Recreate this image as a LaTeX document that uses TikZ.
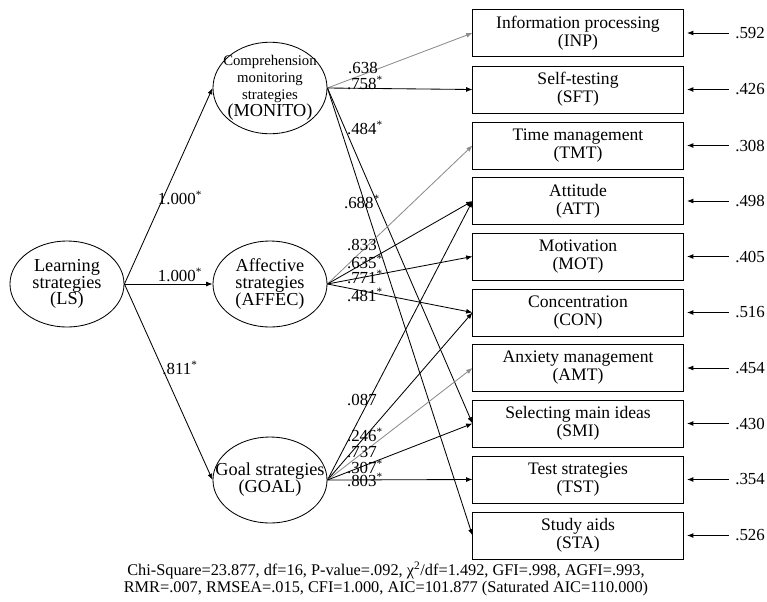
\documentclass[tikz,border=0pt]{standalone}
\usepackage{fontspec}
\setmainfont{Liberation Serif}
\usepackage{tikz}
\definecolor{white}{rgb}{1.0, 1.0, 1.0}
\definecolor{black}{rgb}{0.0, 0.0, 0.0}
\definecolor{lgray}{RGB}{140,140,140}
\usetikzlibrary{arrows.meta}
\usetikzlibrary{shapes.geometric}
\pgfdeclarelayer{edgelayer}
\pgfdeclarelayer{nodelayer}
\pgfsetlayers{edgelayer,nodelayer,main}
\tikzstyle{latent}=[ellipse,fill=white,draw=black,line width=0.6pt,minimum width=2.85cm,minimum height=2.15cm,inner xsep=-12pt,inner ysep=0pt,align=center,font=\fontsize{13}{12}\selectfont]
\tikzstyle{box}=[rectangle,fill=white,draw=black,line width=0.7pt,minimum width=5.25cm,minimum height=1.175cm,align=center,font=\fontsize{12.5}{12.8}\selectfont]
\tikzstyle{coef}=[inner sep=0pt,font=\fontsize{12}{12}\selectfont]
\tikzstyle{reg}=[-{Latex[length=4.5pt,width=3.5pt]},line width=0.6pt]
\tikzstyle{greg}=[reg,lgray]

\begin{document}
\begin{tikzpicture}[x=0.025cm,y=-0.025cm]
        \useasboundingbox (0,0) rectangle (767,601);
        \begin{pgfonlayer}{nodelayer}
            \node [style = latent] (ls) at (67, 284) {Learning\\strategies\\(LS)};
            \node [style = latent] (monito) at (270, 88) {{\fontsize{10.5}{10.5}\selectfont Comprehension}\\{\fontsize{10.5}{11}\selectfont monitoring}\\{\fontsize{10.5}{12}\selectfont strategies}\\(MONITO)};
            \node [style = latent] (affec) at (270, 284) {Affective\\strategies\\(AFFEC)};
            \node [style = latent] (goal) at (270, 480) {Goal strategies\\(GOAL)};

            \node [style = box] (inp) at (578, 33) {Information processing\\(INP)};
            \node [style = box] (sft) at (578, 89.5) {Self-testing\\(SFT)};
            \node [style = box] (tmt) at (578, 145.5) {Time management\\(TMT)};
            \node [style = box] (att) at (578, 201) {Attitude\\(ATT)};
            \node [style = box] (mot) at (578, 256.5) {Motivation\\(MOT)};
            \node [style = box] (con) at (578, 312.5) {Concentration\\(CON)};
            \node [style = box] (amt) at (578, 368) {Anxiety management\\(AMT)};
            \node [style = box] (smi) at (578, 423.5) {Selecting main ideas\\(SMI)};
            \node [style = box] (tst) at (578, 479.5) {Test strategies\\(TST)};
            \node [style = box] (sta) at (578, 535.5) {Study aids\\(STA)};

            \node [style = coef] (c1) at (180, 198) {1.000\textsuperscript{*}};
            \node [style = coef] (c2) at (180, 275) {1.000\textsuperscript{*}};
            \node [style = coef] (c3) at (180, 368) {.811\textsuperscript{*}};

            \node [style = coef] (c4) at (363, 68) {.638};
            \node [style = coef] (c5) at (365, 83) {.758\textsuperscript{*}};
            \node [style = coef] (c6) at (365, 128) {.484\textsuperscript{*}};
            \node [style = coef] (c7) at (362, 202) {.688\textsuperscript{*}};

            \node [style = coef] (c8) at (362, 245) {.833};
            \node [style = coef] (c9) at (365, 262) {.635\textsuperscript{*}};
            \node [style = coef] (c10) at (365, 277) {.771\textsuperscript{*}};
            \node [style = coef] (c11) at (365, 295) {.481\textsuperscript{*}};

            \node [style = coef] (c12) at (362, 400) {.087};
            \node [style = coef] (c13) at (365, 435) {.246\textsuperscript{*}};
            \node [style = coef] (c14) at (362, 452) {.737};
            \node [style = coef] (c15) at (365, 467) {.307\textsuperscript{*}};
            \node [style = coef] (c16) at (365, 480) {.803\textsuperscript{*}};

            \node [style = coef, anchor = west] (rinp) at (735, 33) {.592};
            \node [style = coef, anchor = west] (rsft) at (735, 89.5) {.426};
            \node [style = coef, anchor = west] (rtmt) at (735, 145.5) {.308};
            \node [style = coef, anchor = west] (ratt) at (735, 201) {.498};
            \node [style = coef, anchor = west] (rmot) at (735, 256.5) {.405};
            \node [style = coef, anchor = west] (rcon) at (735, 312.5) {.516};
            \node [style = coef, anchor = west] (ramt) at (735, 368) {.454};
            \node [style = coef, anchor = west] (rsmi) at (735, 423.5) {.430};
            \node [style = coef, anchor = west] (rtst) at (735, 479.5) {.354};
            \node [style = coef, anchor = west] (rsta) at (735, 535.5) {.526};

            \node [align = center, font = \fontsize{11.6}{12.5}\selectfont] (fit) at (386, 579) {Chi-Square=23.877, df=16, P-value=.092, χ\textsuperscript{2}/df=1.492, GFI=.998, AGFI=.993,\\RMR=.007, RMSEA=.015, CFI=1.000, AIC=101.877 (Saturated AIC=110.000)};
        \end{pgfonlayer}

        \begin{pgfonlayer}{edgelayer}
            \draw [reg] (ls.east) to (monito.west);
            \draw [reg] (ls.east) to (affec.west);
            \draw [reg] (ls.east) to (goal.west);

            \draw [greg] (monito.east) to (inp.west);
            \draw [reg] (monito.east) to (sft.west);
            \draw [reg] (monito.east) to (smi.west);
            \draw [reg] (monito.east) to (sta.west);

            \draw [greg] (affec.east) to (tmt.west);
            \draw [reg] (affec.east) to (att.west);
            \draw [reg] (affec.east) to (mot.west);
            \draw [reg] (affec.east) to (con.west);

            \draw [reg] (goal.east) to (att.west);
            \draw [reg] (goal.east) to (con.west);
            \draw [greg] (goal.east) to (amt.west);
            \draw [reg] (goal.east) to (smi.west);
            \draw [reg] (goal.east) to (tst.west);

            \draw [reg, shorten >=2.5pt] (rinp.west) ++(-6, 0) to (inp.east);
            \draw [reg, shorten >=2.5pt] (rsft.west) ++(-6, 0) to (sft.east);
            \draw [reg, shorten >=2.5pt] (rtmt.west) ++(-6, 0) to (tmt.east);
            \draw [reg, shorten >=2.5pt] (ratt.west) ++(-6, 0) to (att.east);
            \draw [reg, shorten >=2.5pt] (rmot.west) ++(-6, 0) to (mot.east);
            \draw [reg, shorten >=2.5pt] (rcon.west) ++(-6, 0) to (con.east);
            \draw [reg, shorten >=2.5pt] (ramt.west) ++(-6, 0) to (amt.east);
            \draw [reg, shorten >=2.5pt] (rsmi.west) ++(-6, 0) to (smi.east);
            \draw [reg, shorten >=2.5pt] (rtst.west) ++(-6, 0) to (tst.east);
            \draw [reg, shorten >=2.5pt] (rsta.west) ++(-6, 0) to (sta.east);
        \end{pgfonlayer}
    \end{tikzpicture}
\end{document}
